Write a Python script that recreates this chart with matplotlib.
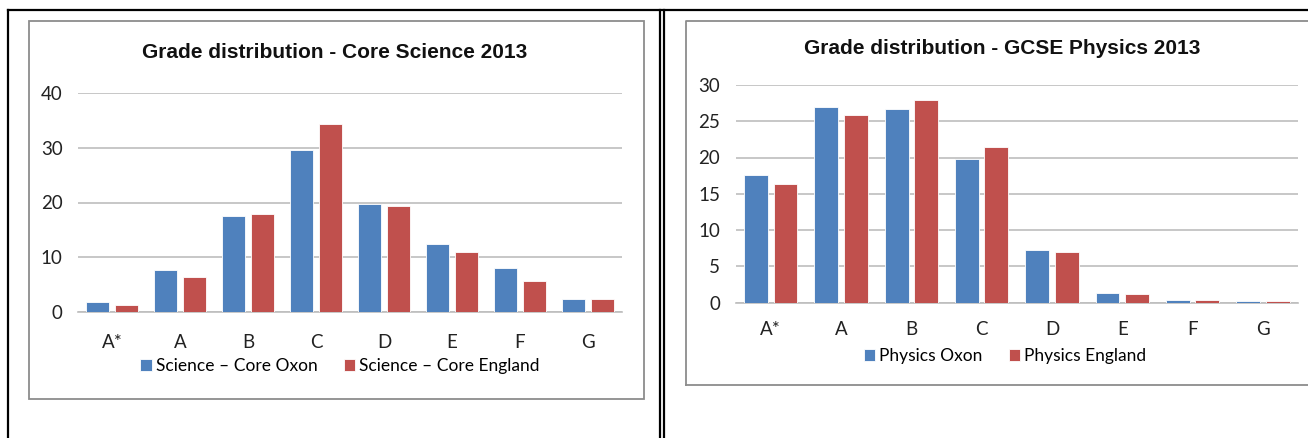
import numpy as np
import matplotlib
matplotlib.use("Agg")
import matplotlib.pyplot as plt
from matplotlib.lines import Line2D
from matplotlib.patches import Rectangle

# 데이터
grades = ["A*", "A", "B", "C", "D", "E", "F", "G"]

core_oxon = [1.8, 7.7, 17.6, 29.5, 19.7, 12.5, 8.1, 2.3]
core_england = [1.2, 6.4, 17.9, 34.3, 19.3, 10.9, 5.6, 2.3]

physics_oxon = [17.6, 26.9, 26.7, 19.8, 7.3, 1.33, 0.4, 0.2]
physics_england = [16.3, 25.8, 28.0, 21.5, 7.0, 1.2, 0.3, 0.15]

BLUE = "#4F81BD"
RED = "#C0504D"
GRID = "#BEBEBE"

W, H = 1308, 438
fig = plt.figure(figsize=(W / 100, H / 100), dpi=100)
fig.patch.set_facecolor("white")


def fx(px):
    return px / W


def fy(py):
    return 1 - py / H


# 표 테두리 (검은 선)
for seg in [
    ((8, 8), (10, H)), ((8, W), (10, 10)),
    ((659.5, 659.5), (10, H)), ((664, 664), (10, H)),
]:
    fig.add_artist(Line2D([fx(seg[0][0]), fx(seg[0][1])], [fy(seg[1][0]), fy(seg[1][1])],
                          color="black", lw=1.6, transform=fig.transFigure))

# 차트 영역 테두리 (회색)
fig.add_artist(Rectangle((fx(28.6), fy(399)), fx(644) - fx(28.6), fy(21) - fy(399),
                         fill=False, ec="#8C8C8C", lw=1.3, transform=fig.transFigure))
fig.add_artist(Line2D([fx(686), fx(686), fx(W)], [fy(385), fy(21), fy(21)],
                      color="#8C8C8C", lw=1.3, transform=fig.transFigure))
fig.add_artist(Line2D([fx(686), fx(W)], [fy(385), fy(385)],
                      color="#8C8C8C", lw=1.3, transform=fig.transFigure))


def draw_chart(rect, oxon, england, labels, ymax, step, title, title_xy, legend_xy, xpad):
    ax = fig.add_axes(rect)
    x = np.arange(len(grades))
    w = 0.34
    off = 0.21
    ax.bar(x - off, oxon, w, color=BLUE, edgecolor="white", linewidth=0.6, label=labels[0], zorder=3)
    ax.bar(x + off, england, w, color=RED, edgecolor="white", linewidth=0.6, label=labels[1], zorder=3)
    ax.set_xlim(-0.5, len(grades) - 0.5)
    ax.set_ylim(0, ymax)
    ax.set_yticks(np.arange(0, ymax + 0.1, step))
    ax.set_xticks(x)
    ax.set_xticklabels(grades)
    ax.yaxis.grid(True, color=GRID, lw=1.2, zorder=0)
    ax.set_axisbelow(True)
    for s in ["top", "right", "left"]:
        ax.spines[s].set_visible(False)
    ax.spines["bottom"].set_color(GRID)
    ax.spines["bottom"].set_linewidth(1.2)
    ax.tick_params(axis="both", length=0, labelsize=13.5, colors="#222222")
    ax.tick_params(axis="x", pad=xpad)
    ax.tick_params(axis="y", pad=11)
    for t in ax.get_xticklabels() + ax.get_yticklabels():
        t.set_fontfamily("Lato")
    ax.set_facecolor("none")
    fig.text(fx(title_xy[0]), fy(title_xy[1]), title, ha="center", va="center",
             fontsize=15, fontweight="bold", family="Liberation Sans", color="#111111")
    fig.legend(handles=ax.patches[:1] + ax.patches[len(grades):len(grades) + 1],
               labels=labels, loc="center", bbox_to_anchor=(fx(legend_xy[0]), fy(legend_xy[1])),
               ncol=2, frameon=False, handlelength=0.65, handleheight=0.75, handletextpad=0.25,
               columnspacing=1.5, prop={"family": "Lato", "size": 12.5})
    return ax


draw_chart([fx(78), fy(312), fx(622) - fx(78), fy(93) - fy(312)],
           core_oxon, core_england, ["Science \u2013 Core Oxon", "Science \u2013 Core England"],
           40, 10, "Grade distribution - Core Science 2013", (335, 52), (340, 366), 15.5)

draw_chart([fx(735.6), fy(302.5), fx(1298) - fx(735.6), fy(85) - fy(302.5)],
           physics_oxon, physics_england, ["Physics Oxon", "Physics England"],
           30, 5, "Grade distribution - GCSE Physics 2013", (1002, 49), (1005, 356), 13)

fig.savefig("out.png", dpi=100, facecolor="white")
